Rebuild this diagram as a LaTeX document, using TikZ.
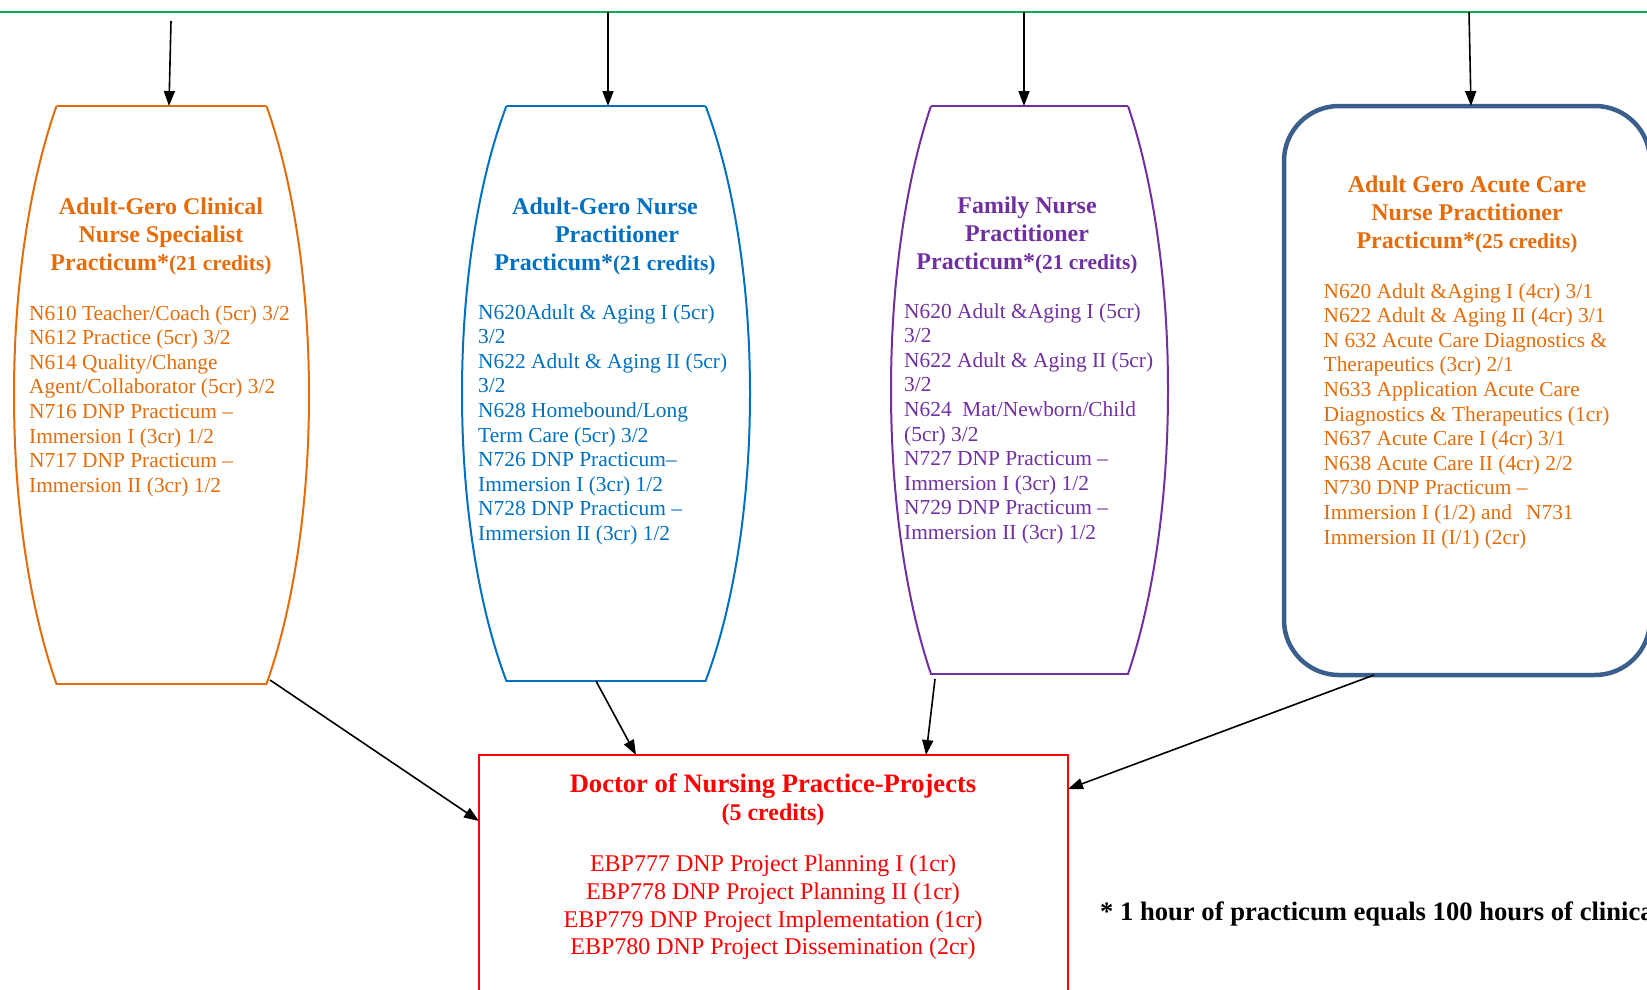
\documentclass[tikz,border=0pt]{standalone}
\usepackage{fontspec}
\setmainfont{Liberation Serif}
\usetikzlibrary{arrows.meta}

\definecolor{cnsorange}{HTML}{E46C0A}
\definecolor{agnpblue}{HTML}{0070C0}
\definecolor{fnppurple}{HTML}{7030A0}
\definecolor{acnpframe}{HTML}{3B5F8C}
\definecolor{dnpred}{HTML}{FF0000}
\definecolor{topgreen}{HTML}{00B050}

\newcommand{\titlesize}{\fontsize{24}{28}\selectfont}
\newcommand{\creditsize}{\fontsize{21.4}{24.6}\selectfont}
\newcommand{\coursesize}{\fontsize{21.4}{24.6}\selectfont}

% barrel outline round an empty node: node, colour, x radius, y radius
\newcommand{\drawbarrel}[4]{%
  \begin{scope}
    \clip ([xshift=-5pt]#1.north west) rectangle ([xshift=5pt]#1.south east);
    \draw[#2,line width=2pt] (#1.center) ellipse [x radius=#3, y radius=#4];
  \end{scope}
  \begin{scope}
    \clip (#1.center) ellipse [x radius=#3, y radius=#4];
    \draw[#2,line width=2pt] (#1.north west) -- (#1.north east)
                             (#1.south west) -- (#1.south east);
  \end{scope}}

\begin{document}
\begin{tikzpicture}
[x=1pt,y=-1pt,
 frame/.style={rectangle,inner sep=0pt,outer sep=0pt},
 heading/.style={font=\titlesize\bfseries,align=center,inner sep=0pt,anchor=north},
 courses/.style={font=\coursesize,align=left,inner sep=0pt,anchor=north west},
 link/.style={-{Triangle[length=15pt,width=11pt]},line width=1.6pt}]

\useasboundingbox (0,0) rectangle (1647,989);

% top bar and the four programme boxes
\coordinate (gl) at (0,12);
\coordinate (gr) at (1647,12);
\draw[topgreen,line width=2pt] (gl) -- (gr);

\node (cns) at (161.5,395) [frame,minimum width=295,minimum height=578] {};
\node (agnp) at (606,393.5) [frame,minimum width=288,minimum height=575] {};
\node (fnp) at (1029.5,390) [frame,minimum width=277,minimum height=568] {};
\node (acnp) at (1467,390.5) [frame,draw=acnpframe,line width=4.5pt,rounded corners=55pt,
  minimum width=366,minimum height=569] {};
\node (dnp) at (773.5,890) [frame,draw=dnpred,line width=2pt,minimum width=589,minimum height=270] {};

\drawbarrel{cns}{cnsorange}{147.5}{411.5}
\drawbarrel{agnp}{agnpblue}{144}{398}
\drawbarrel{fnp}{fnppurple}{138.5}{404}

\coordinate (s1) at (171,21);
\coordinate (s2) at (608,12);
\coordinate (s3) at (1024,12);
\coordinate (s4) at (1469,12);

\draw[link] (s1) -- ([xshift=7.5pt]cns.north);
\draw[link] (s2) -- ([xshift=2pt]agnp.north);
\draw[link] (s3) -- ([xshift=-5.5pt]fnp.north);
\draw[link] (s4) -- ([xshift=4pt]acnp.north);

\draw[link] ([xshift=-39pt,yshift=4pt]cns.south east) -- ([yshift=-66pt]dnp.north west);
\draw[link] ([xshift=-10pt]agnp.south) -- ([xshift=157pt]dnp.north west);
\draw[link] ([xshift=-94.5pt,yshift=-5pt]fnp.south) -- ([xshift=447pt]dnp.north west);
\draw[link] ([xshift=90pt]acnp.south west) -- ([yshift=-34pt]dnp.north east);

% texts
\node (cnsT) at (161,198) [heading,text=cnsorange]
  {Adult-Gero Clinical\\Nurse Specialist\\Practicum*{\creditsize(21 credits)}};
\node (cnsC) at (29,305) [courses,text=cnsorange]
  {N610 Teacher/Coach (5cr) 3/2\\N612 Practice (5cr) 3/2\\N614 Quality/Change\\
   Agent/Collaborator (5cr) 3/2\\N716 DNP Practicum –\\Immersion I (3cr) 1/2\\
   N717 DNP Practicum –\\Immersion II (3cr) 1/2};

\node (agnpT) at (605,198) [heading,text=agnpblue]
  {Adult-Gero Nurse\\\hspace*{24pt}Practitioner\\Practicum*{\creditsize(21 credits)}};
\node (agnpC) at (478,304) [courses,text=agnpblue]
  {N620Adult \& Aging I (5cr)\\3/2\\N622 Adult \& Aging II (5cr)\\3/2\\
   N628 Homebound/Long\\Term Care (5cr) 3/2\\N726 DNP Practicum–\\
   Immersion I (3cr) 1/2\\N728 DNP Practicum –\\Immersion II (3cr) 1/2};

\node (fnpT) at (1027,197) [heading,text=fnppurple]
  {Family Nurse\\Practitioner\\Practicum*{\creditsize(21 credits)}};
\node (fnpC) at (904,303) [courses,text=fnppurple]
  {N620 Adult \&Aging I (5cr)\\3/2\\N622 Adult \& Aging II (5cr)\\3/2\\
   N624\ \ Mat/Newborn/Child\\(5cr) 3/2\\N727 DNP Practicum –\\
   Immersion I (3cr) 1/2\\N729 DNP Practicum –\\Immersion II (3cr) 1/2};

\node (acnpT) at (1467,176) [heading,text=cnsorange]
  {Adult Gero Acute Care\\Nurse Practitioner\\Practicum*{\creditsize(25 credits)}};
\node (acnpC) at (1323.5,283) [courses,text=cnsorange]
  {N620 Adult \&Aging I (4cr) 3/1\\N622 Adult \& Aging II (4cr) 3/1\\
   N 632 Acute Care Diagnostics \&\\Therapeutics (3cr) 2/1\\
   N633 Application Acute Care\\Diagnostics \& Therapeutics (1cr)\\
   N637 Acute Care I (4cr) 3/1\\N638 Acute Care II (4cr) 2/2\\
   N730 DNP Practicum –\\Immersion I (1/2) and\hspace{14pt}N731\\
   Immersion II (I/1) (2cr)};

\node (dnpT) at (773,774) [heading,text=dnpred]
  {{\fontsize{26.6}{28.4}\selectfont Doctor of Nursing Practice-Projects}\\(5 credits)};
\node (dnpC) at (773,855) [heading,font=\fontsize{24}{27.6}\selectfont,text=dnpred]
  {EBP777 DNP Project Planning I (1cr)\\EBP778 DNP Project Planning II (1cr)\\
   EBP779 DNP Project Implementation (1cr)\\EBP780 DNP Project Dissemination (2cr)};

\node (note) at (1100,914) [anchor=west,inner sep=0pt,font=\fontsize{26.6}{30}\selectfont\bfseries]
  {* 1 hour of practicum equals 100 hours of clinical};
\end{tikzpicture}
\end{document}
